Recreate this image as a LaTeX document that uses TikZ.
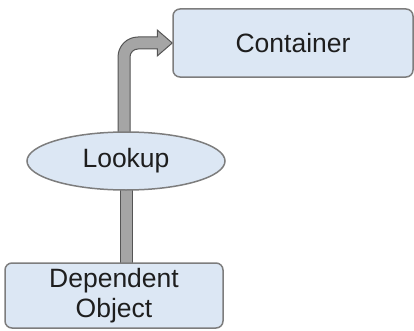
\documentclass[tikz,border=0pt]{standalone}
\usepackage{fontspec}
\setmainfont{Liberation Sans}
\usetikzlibrary{shapes.geometric,calc}
\pgfdeclarelayer{background}
\pgfsetlayers{background,main}
\definecolor{boxfill}{RGB}{220,231,244}
\definecolor{boxline}{RGB}{125,125,125}
\definecolor{arrfill}{RGB}{165,165,165}
\definecolor{arrline}{RGB}{85,85,85}
\definecolor{txt}{RGB}{30,30,30}
\tikzset{
  box/.style={draw=boxline, line width=1.5pt, fill=boxfill, rounded corners=7pt,
    text=txt, font=\fontsize{26.5}{30.5}\selectfont, align=center, inner sep=0pt},
  oval/.style={ellipse, draw=boxline, line width=1.5pt, fill=boxfill,
    text=txt, font=\fontsize{26.5}{30.5}\selectfont, inner sep=0pt},
  pipe/.style={fill=arrfill, draw=arrline, line width=1pt}
}
\begin{document}
\begin{tikzpicture}[x=1pt,y=1pt]
\useasboundingbox (0,0) rectangle (414,330);
\node[box, minimum width=240pt, minimum height=68pt] (container) at (293,287) {Container};
\node[oval, minimum width=198pt, minimum height=58pt] (lookup) at (126,169) {Lookup};
\node[box, minimum width=218pt, minimum height=65pt] (dep) at (114,34.5) {Dependent\\Object};
\begin{pgfonlayer}{background}
  % lower connector
  \draw[pipe] let \p1=(dep.north), \p2=(lookup.south) in
    (\x2-6pt,\y1-4pt) rectangle (\x2+6pt,\y2+6pt);
  % upper arrow
  \draw[pipe] let \p1=([xshift=-2pt]lookup.north), \p2=(container.west) in
    (\x1-6pt,\y1-6pt) -- (\x1-6pt,\y2-14pt)
    arc[start angle=180,end angle=90,radius=20pt]
    -- (\x2-15pt,\y2+6pt) -- (\x2-15pt,\y2+13pt) -- (\x2,\y2)
    -- (\x2-15pt,\y2-13pt) -- (\x2-15pt,\y2-6pt) -- (\x1+14pt,\y2-6pt)
    arc[start angle=90,end angle=180,radius=8pt]
    -- (\x1+6pt,\y1-6pt) -- cycle;
\end{pgfonlayer}
\end{tikzpicture}
\end{document}
